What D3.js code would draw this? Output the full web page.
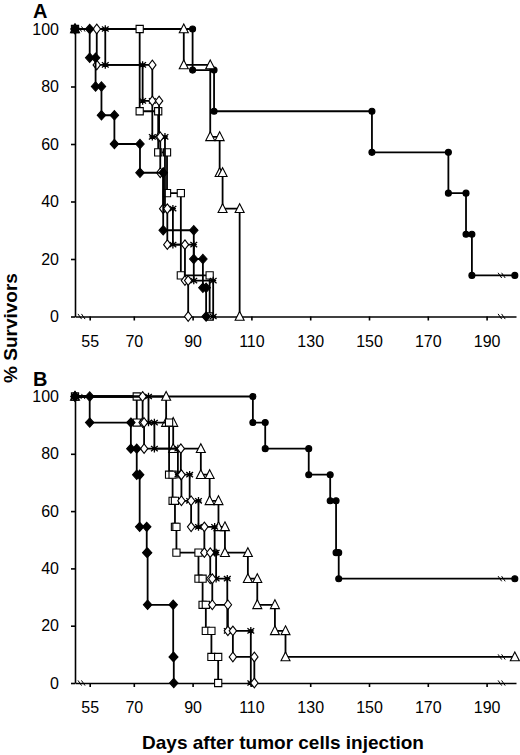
<!DOCTYPE html>
<html>
<head>
<meta charset="utf-8">
<script src="https://cdn.jsdelivr.net/npm/d3@7"></script>
<style>
body { margin: 0; background: #fff; }
</style>
</head>
<body>
<div id="visContainer"></div>
<script>
'use strict';
// survival data: day of each drop and % survivors after it

// panel A
var aFillDiamondDays = [55, 57, 59, 63.4, 72.1, 80, 90.4, 93.5, 94.6];
var aFillDiamondSurv = [90, 80, 70, 60, 50, 30, 20, 10, 0];
var aOpenDiamondDays = [57.4, 76.3, 78.6, 79, 80, 81.4, 87.4, 88.5];
var aOpenDiamondSurv = [87.5, 75, 62.5, 50, 37.5, 25, 12.5, 0];
var aSquareDays = [72, 78.3, 81.3, 86, 95.8];
var aSquareSurv = [71.4, 57.1, 42.9, 14.3, 0];
var aStarDays = [60.3, 73, 76.3, 80.6, 83.3, 90.4, 97];
var aStarSurv = [87.5, 75, 62.5, 37.5, 25, 12.5, 0];
var aTriangleDays = [87, 96, 99.2, 100.2, 106];
var aTriangleSurv = [87.5, 62.5, 50, 37.5, 0];
var aCircleDays = [90, 97.3, 151, 177, 183, 185];
var aCircleSurv = [85.7, 71.4, 57.1, 42.9, 28.6, 14.3];

// panel B
var bFillDiamondDays = [55, 69, 71, 72, 74.4, 74.7, 83.4, 83.6];
var bFillDiamondSurv = [90.9, 81.8, 72.7, 54.5, 45.5, 27.3, 9.1, 0];
var bOpenDiamondDays = [73, 73.5, 86, 86.2, 89.5, 94, 96, 96.7, 102, 103.7, 111];
var bOpenDiamondSurv = [90.9, 81.8, 72.7, 63.6, 54.5, 45.5, 36.4, 27.3, 18.2, 9.1, 0];
var bSquareDays = [71, 82, 83.2, 84, 84.5, 92, 93.4, 94.5, 96.4, 98.7];
var bSquareSurv = [90.9, 72.7, 63.6, 54.5, 45.5, 36.4, 27.3, 18.2, 9.1, 0];
var bStarDays = [75, 77, 85, 89, 92, 97.5, 98, 101.8, 109.8];
var bStarSurv = [90.9, 81.8, 72.7, 63.6, 54.5, 45.5, 36.4, 18.2, 0];
var bTriangleDays = [81, 83.4, 92.8, 95.8, 98.8, 101, 108.8, 112, 118, 121.6];
var bTriangleSurv = [90.9, 81.8, 72.7, 63.6, 54.5, 45.5, 36.4, 27.3, 18.2, 9.1];
var bCircleDays = [110.5, 114.7, 129.5, 136.8, 138.8, 139.7];
var bCircleSurv = [90.9, 81.8, 72.7, 63.6, 45.5, 36.4];

var startDay = 50;
var lastDay = 199.6;      // survivors still alive at end of follow-up
var breakLeft = 52.3;     // axis break marks
var breakRight = 195.2;
var xTicks = [55, 70, 90, 110, 130, 150, 170, 190];
var yTicks = [0, 20, 40, 60, 80, 100];

var width = 520;
var height = 755;
var font = "'Liberation Sans', Arial, sans-serif";

var svg = d3.select('#visContainer')
  .append('svg')
  .attr('width', width)
  .attr('height', height)
  .style('font-family', font);

var x = d3.scaleLinear().domain([50, 200]).range([75, 516]);

// marker shapes, centred on 0,0
function markerPath(type) {
  if (type == 'fillDiamond') return 'M0,-4.6L4.2,0L0,4.6L-4.2,0Z';
  if (type == 'openDiamond') return 'M0,-4.8L3.7,0L0,4.8L-3.7,0Z';
  if (type == 'square') return 'M-3.6,-3.6H3.6V3.6H-3.6Z';
  if (type == 'triangle') return 'M0,-5L4.5,3.8H-4.5Z';
  if (type == 'star') return 'M0,-3.8V3.8M-3.4,-2.6L3.4,2.6M-3.4,2.6L3.4,-2.6M-3,0H3';
  return 'M-3,0A3,3 0 1,0 3,0A3,3 0 1,0 -3,0Z';
}

function stepPoints(days, surv, censored) {
  /* turn drop days into the corners of a step curve */
  var pts = [[startDay, 100]];
  var prev = 100;
  for (var i = 0; i < days.length; i++) {
    pts.push([days[i], prev]);
    pts.push([days[i], surv[i]]);
    prev = surv[i];
  }
  if (censored) pts.push([lastDay, prev]);
  return pts;
}

function breakMark(g, px, py) {
  /* two little slashes where the axis is broken */
  [-2, 1.5].forEach(function(o) {
    g.append('line')
      .attr('x1', px + o - 1.8).attr('y1', py - 2.6)
      .attr('x2', px + o + 1.8).attr('y2', py + 2.6)
      .attr('stroke', 'black').attr('stroke-width', 1);
  });
}

function drawPanel(label, top, bottom, series) {
  var y = d3.scaleLinear().domain([0, 100]).range([bottom, top]);
  var g = svg.append('g');

  var yAxis = d3.axisLeft(y).tickValues(yTicks).tickSize(4).tickSizeOuter(0).tickPadding(12);
  var xAxis = d3.axisBottom(x).tickValues(xTicks).tickSize(4).tickSizeOuter(0).tickPadding(15);

  var gy = g.append('g').attr('transform', 'translate(' + x(50) + ',0)').call(yAxis);
  var gx = g.append('g').attr('transform', 'translate(0,' + y(0) + ')').call(xAxis);
  [gx, gy].forEach(function(a) {
    a.selectAll('path, line').attr('stroke', 'black').attr('stroke-width', 1.6);
    a.selectAll('text').attr('font-size', '16px').attr('font-family', font).attr('fill', 'black');
  });

  g.append('text')
    .attr('x', 33).attr('y', top - 11)
    .attr('font-size', '20px').attr('font-weight', 'bold')
    .text(label);

  var line = d3.line()
    .x(function(d) { return x(d[0]); })
    .y(function(d) { return y(d[1]); });

  series.forEach(function(s) {
    var pts = stepPoints(s.days, s.surv, s.censored);
    g.append('path')
      .attr('d', line(pts))
      .attr('fill', 'none')
      .attr('stroke', 'black')
      .attr('stroke-width', 1.8);
    var filled = (s.type == 'fillDiamond' || s.type == 'circle');
    g.selectAll(null)
      .data(pts)
      .enter()
      .append('path')
      .attr('transform', function(d) { return 'translate(' + x(d[0]) + ',' + y(d[1]) + ')'; })
      .attr('d', markerPath(s.type))
      .attr('fill', filled ? 'black' : 'white')
      .attr('stroke', 'black')
      .attr('stroke-width', s.type == 'star' ? 1.3 : 1.1);
    if (s.censored) breakMark(g, x(breakRight), y(s.surv[s.surv.length - 1]));
  });

  breakMark(g, x(breakLeft), y(100));
  breakMark(g, x(breakLeft), y(0));
  breakMark(g, x(breakRight), y(0));
}

drawPanel('A', 29, 316.5, [
  { type: 'circle', days: aCircleDays, surv: aCircleSurv, censored: true },
  { type: 'triangle', days: aTriangleDays, surv: aTriangleSurv },
  { type: 'square', days: aSquareDays, surv: aSquareSurv },
  { type: 'star', days: aStarDays, surv: aStarSurv },
  { type: 'openDiamond', days: aOpenDiamondDays, surv: aOpenDiamondSurv },
  { type: 'fillDiamond', days: aFillDiamondDays, surv: aFillDiamondSurv }
]);

drawPanel('B', 396.5, 683, [
  { type: 'circle', days: bCircleDays, surv: bCircleSurv, censored: true },
  { type: 'triangle', days: bTriangleDays, surv: bTriangleSurv, censored: true },
  { type: 'square', days: bSquareDays, surv: bSquareSurv },
  { type: 'star', days: bStarDays, surv: bStarSurv },
  { type: 'openDiamond', days: bOpenDiamondDays, surv: bOpenDiamondSurv },
  { type: 'fillDiamond', days: bFillDiamondDays, surv: bFillDiamondSurv }
]);

// axis titles
svg.append('text')
  .attr('transform', 'translate(17,328) rotate(-90)')
  .attr('text-anchor', 'middle')
  .attr('font-size', '19px')
  .attr('font-weight', 'bold')
  .text('% Survivors');

svg.append('text')
  .attr('x', 283).attr('y', 749)
  .attr('text-anchor', 'middle')
  .attr('font-size', '19px')
  .attr('font-weight', 'bold')
  .text('Days after tumor cells injection');
</script>
</body>
</html>
